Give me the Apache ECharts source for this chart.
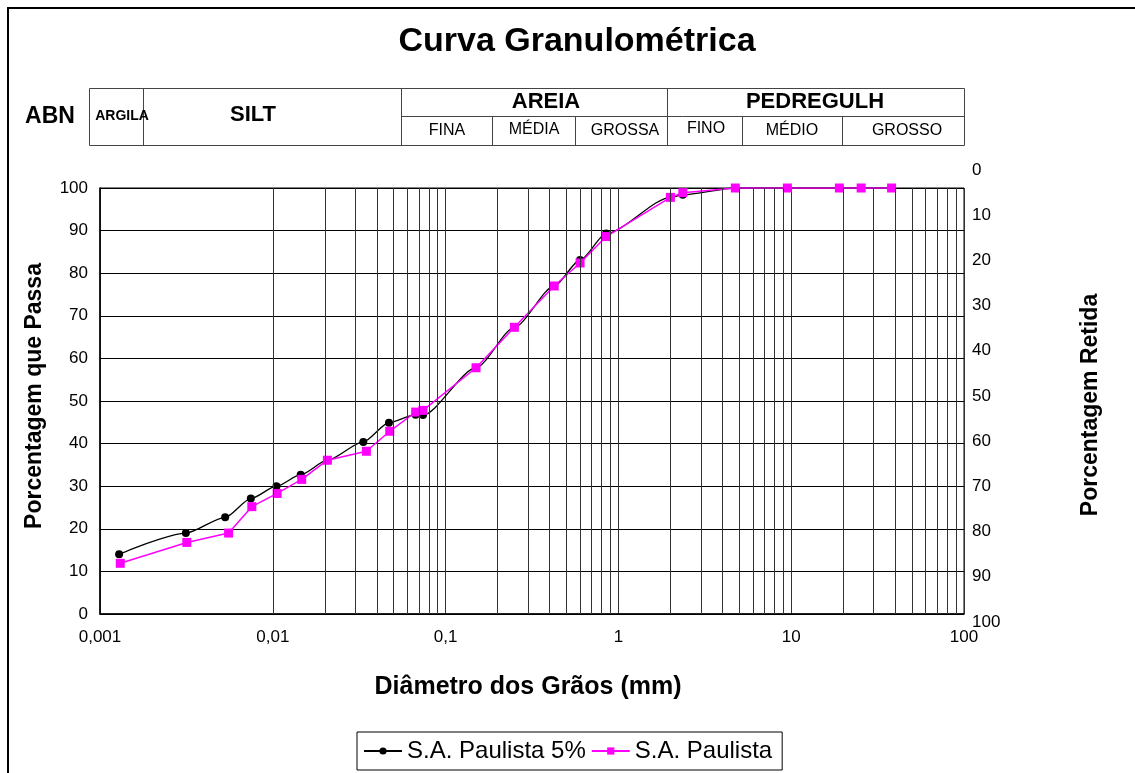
<!DOCTYPE html>
<html>
<head>
<meta charset="utf-8">
<script src="https://cdn.jsdelivr.net/npm/echarts@6/dist/echarts.min.js"></script>
<style>
  html, body { margin: 0; padding: 0; background: #fff; }
  #chart { width: 1135px; height: 773px; }
</style>
</head>
<body>
<div id="chart"></div>
<script>
  // amostra com 5% (curva preta, suavizada)
  var diam5 = [0.00129, 0.00314, 0.0053, 0.00746, 0.0105, 0.0145, 0.0207, 0.0334, 0.047, 0.0671, 0.074,
    0.15, 0.25, 0.425, 0.6, 0.85, 2.0, 2.36, 4.75, 9.5, 19, 25.4, 38.1];
  var pass5 = [14.0, 19.0, 22.7, 27.1, 30.0, 32.7, 36.1, 40.4, 44.9, 46.8, 46.7,
    57.8, 67.3, 77.0, 83.1, 89.3, 97.8, 98.4, 100, 100, 100, 100, 100];

  // amostra original (curva magenta)
  var diamPaulista = [0.00131, 0.00318, 0.00555, 0.00756, 0.0106, 0.0147, 0.0207, 0.0348, 0.0475, 0.0671, 0.074,
    0.15, 0.25, 0.425, 0.6, 0.85, 2.0, 2.36, 4.75, 9.5, 19, 25.4, 38.1];
  var passPaulista = [11.9, 16.8, 19.0, 25.2, 28.3, 31.6, 36.1, 38.2, 42.9, 47.4, 47.8,
    57.8, 67.3, 77.0, 82.4, 88.6, 97.8, 98.9, 100, 100, 100, 100, 100];

  var seriesNames = ['S.A. Paulista 5%', 'S.A. Paulista'];

  // linhas verticais secundarias da escala log
  var decades = [0.001, 0.01, 0.1, 1, 10];
  var minorLines = [];
  decades.forEach(function (d) {
    for (var m = 2; m <= 9; m++) minorLines.push({xAxis: +(d * m).toPrecision(3)});
  });

  function zip(xs, ys) {
    return xs.map(function (x, i) { return [x, ys[i]]; });
  }

  function fmt(v) {
    return String(+(+v).toPrecision(6)).replace('.', ',');
  }

  var FONT = 'Liberation Sans';

  var chart = echarts.init(document.getElementById('chart'));

  var hdr = [];
  function line(x1, y1, x2, y2) {
    hdr.push({type: 'line', shape: {x1: x1, y1: y1, x2: x2, y2: y2},
      style: {stroke: '#444', lineWidth: 1}, silent: true});
  }
  function txt(x, y, s, size, bold, rot) {
    hdr.push({type: 'text', x: x, y: y, rotation: rot || 0, silent: true,
      style: {text: s, fontSize: size, fontWeight: bold ? 'bold' : 'normal', fontFamily: FONT,
        fill: '#000', align: 'center', verticalAlign: 'middle'}});
  }
  // borda externa
  hdr.push({type: 'polyline', shape: {points: [[8, 773], [8, 8], [1135, 8]]}, silent: true,
    style: {stroke: '#000', lineWidth: 2, fill: 'none'}});
  // tabela de classificacao
  hdr.push({type: 'rect', shape: {x: 89.5, y: 88.5, width: 875, height: 57}, silent: true,
    style: {fill: 'none', stroke: '#444', lineWidth: 1}});
  line(143.5, 88, 143.5, 145);
  line(401.5, 88, 401.5, 145);
  line(667.5, 88, 667.5, 145);
  line(401, 116.5, 964, 116.5);
  line(492.5, 116, 492.5, 145);
  line(575.5, 116, 575.5, 145);
  line(742.5, 116, 742.5, 145);
  line(842.5, 116, 842.5, 145);
  txt(50, 117, 'ABN', 23, true);
  txt(122, 116, 'ARGILA', 14, true);
  txt(253, 115, 'SILT', 22, true);
  txt(546, 102, 'AREIA', 22, true);
  txt(815, 102, 'PEDREGULH', 22, true);
  txt(447, 131, 'FINA', 16, false);
  txt(534, 130, 'MÉDIA', 16, false);
  txt(625, 131, 'GROSSA', 16, false);
  txt(706, 129, 'FINO', 16, false);
  txt(792, 131, 'MÉDIO', 16, false);
  txt(907, 131, 'GROSSO', 16, false);
  // titulos
  txt(577, 42, 'Curva Granulométrica', 34, true);
  txt(528, 687, 'Diâmetro dos Grãos (mm)', 25, true);
  txt(35, 396, 'Porcentagem que Passa', 23, true, Math.PI / 2);
  txt(1091, 405, 'Porcentagem Retida', 23, true, Math.PI / 2);

  chart.setOption({
    animation: false,
    backgroundColor: '#fff',
    textStyle: {fontFamily: FONT},
    graphic: hdr,
    legend: {
      data: seriesNames,
      left: 357,
      top: 732,
      width: 450,
      padding: [7, 10, 7, 6],
      itemGap: 5,
      itemWidth: 38,
      itemHeight: 9,
      borderColor: '#000',
      borderWidth: 1,
      textStyle: {fontSize: 24, color: '#000', fontFamily: FONT}
    },
    grid: [
      {left: 100, right: 171, top: 188, bottom: 159, show: true, borderColor: '#000', borderWidth: 1},
      {left: 100, right: 171, top: 170, bottom: 151}
    ],
    xAxis: [
      {
        type: 'log', logBase: 10, min: 0.001, max: 100, gridIndex: 0,
        axisLine: {lineStyle: {color: '#000', width: 1.5}},
        axisTick: {show: false},
        axisLabel: {color: '#000', fontSize: 17, margin: 15, formatter: fmt},
        splitLine: {show: true, lineStyle: {color: '#333', width: 1}}
      },
      {type: 'value', gridIndex: 1, show: false, min: 0, max: 1}
    ],
    yAxis: [
      {
        type: 'value', min: 0, max: 100, interval: 10, gridIndex: 0,
        axisLine: {show: true, lineStyle: {color: '#000', width: 1.5}},
        axisTick: {show: false},
        axisLabel: {color: '#000', fontSize: 17, margin: 12},
        splitLine: {show: true, lineStyle: {color: '#000', width: 1}}
      },
      {
        type: 'value', min: 0, max: 100, interval: 10, gridIndex: 1, inverse: true, position: 'right',
        axisLine: {show: false},
        axisTick: {show: false},
        axisLabel: {color: '#000', fontSize: 17, margin: 8},
        splitLine: {show: false}
      }
    ],
    series: [
      {
        name: 'grade', type: 'line', data: [], xAxisIndex: 0, yAxisIndex: 0, silent: true,
        markLine: {
          silent: true, symbol: 'none', label: {show: false},
          lineStyle: {color: '#333', width: 1, type: 'solid'},
          data: minorLines
        }
      },
      {
        name: seriesNames[0], type: 'line', xAxisIndex: 0, yAxisIndex: 0,
        data: zip(diam5, pass5),
        smooth: 0.25,
        smoothMonotone: 'x',
        symbol: 'circle', symbolSize: 8,
        itemStyle: {color: '#000'},
        lineStyle: {color: '#000', width: 1.3},
        z: 3
      },
      {
        name: seriesNames[1], type: 'line', xAxisIndex: 0, yAxisIndex: 0,
        data: zip(diamPaulista, passPaulista),
        symbol: 'rect', symbolSize: 9,
        itemStyle: {color: '#ff00ff'},
        lineStyle: {color: '#ff00ff', width: 1.5},
        z: 4
      }
    ]
  });
</script>
</body>
</html>
